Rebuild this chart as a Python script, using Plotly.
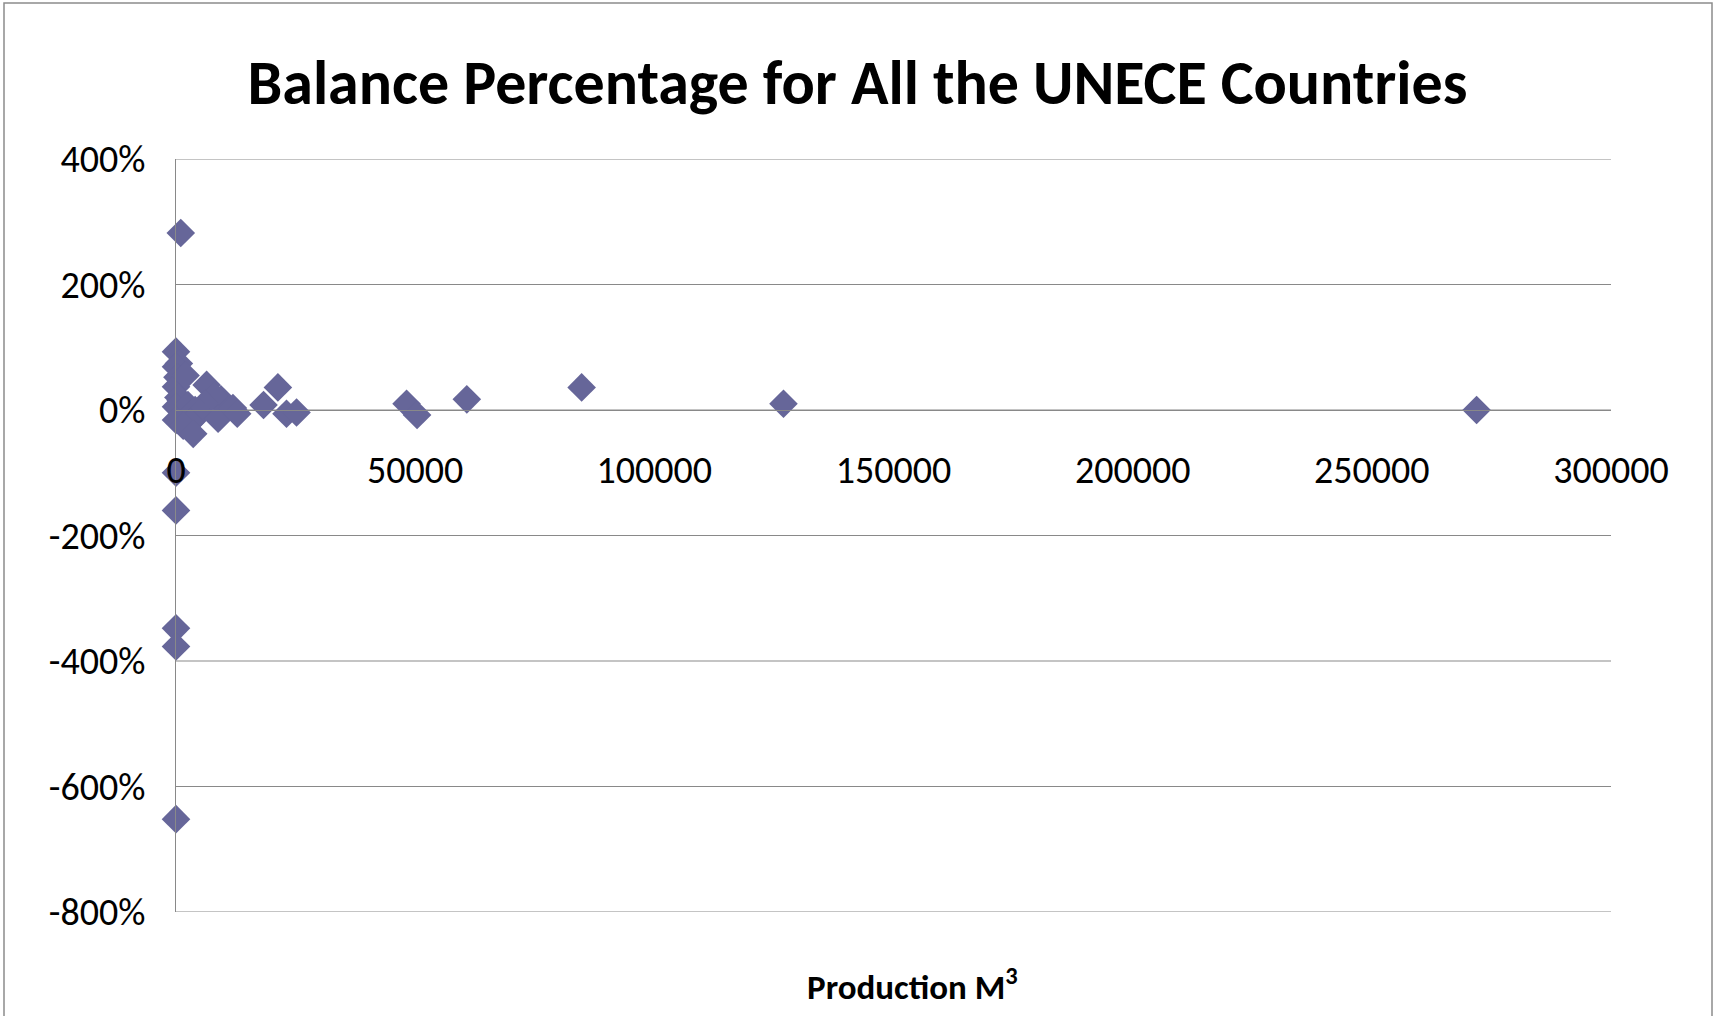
import plotly.graph_objects as go

# Production volume (m3) and balance share for each country
production = [
    1000, 0, 0, 0, 0, 0,
    0, 600, 0, 300, 0, 2000, 6400, 9400, 8000, 500, 1000, 0, 2500, 6000,
    4000, 5000, 0, 3000, 1500, 3600, 8800, 11900, 12800,
    18300, 21300, 23100, 25200,
    48200, 50400, 60800, 84800, 127000, 271900,
]
balance = [
    2.82, -1.00, -1.60, -3.48, -3.77, -6.52,
    0.93, 0.74, 0.69, 0.52, 0.37, 0.55, 0.40, 0.17, 0.22, 0.20, 0.15, 0.05, 0.08, 0.10,
    0.00, -0.05, -0.16, -0.20, -0.25, -0.38, -0.14, 0.03, -0.06,
    0.08, 0.36, -0.06, -0.04,
    0.10, -0.08, 0.17, 0.36, 0.10, 0.00,
]

x_ticks = [0, 50000, 100000, 150000, 200000, 250000, 300000]
y_ticks = [4, 2, 0, -2, -4, -6, -8]

FONT = "Calibri, Carlito, Lato, sans-serif"
GRID = "#898989"

fig = go.Figure(
    go.Scatter(
        x=production,
        y=balance,
        mode="markers",
        marker=dict(symbol="diamond", size=22, color="#666699", line=dict(width=0)),
        cliponaxis=False,
        showlegend=False,
    )
)

W, H = 1715, 1016
ML, MR, MT, MB = 176, 104, 159, 104
pw, ph = W - ML - MR, H - MT - MB

# horizontal gridlines at every y tick, including the range edges
grid_shapes = [
    dict(
        type="line",
        xref="paper",
        yref="y",
        x0=0,
        x1=1,
        y0=v,
        y1=v,
        line=dict(color=GRID, width=1),
        layer="below",
    )
    for v in y_ticks
]

fig.update_layout(
    width=W,
    height=H,
    margin=dict(l=ML, r=MR, t=MT, b=MB),
    paper_bgcolor="white",
    plot_bgcolor="white",
    font=dict(family=FONT, color="black"),
    title=dict(
        text="<b>Balance Percentage for All the UNECE Countries</b>",
        x=0.5,
        xref="container",
        xanchor="center",
        y=1 - 82 / H,
        yanchor="middle",
        font=dict(size=62, family=FONT),
    ),
    xaxis=dict(
        range=[0, 300000],
        tickvals=x_ticks,
        ticktext=[str(v) for v in x_ticks],
        anchor="free",
        position=2 / 3,
        showgrid=False,
        zeroline=False,
        showline=True,
        linecolor=GRID,
        linewidth=1,
        ticks="outside",
        ticklen=26,
        tickcolor="rgba(0,0,0,0)",
        tickfont=dict(size=38, family=FONT),
    ),
    yaxis=dict(
        range=[-8, 4],
        tickvals=y_ticks,
        ticktext=[f"{int(v * 100)}%" for v in y_ticks],
        showgrid=False,
        zeroline=False,
        showline=True,
        linecolor=GRID,
        linewidth=1,
        ticks="outside",
        ticklen=22,
        tickcolor="rgba(0,0,0,0)",
        tickfont=dict(size=38, family=FONT),
    ),
    annotations=[
        dict(
            text="<b>Production M<sup>3</sup></b>",
            xref="paper",
            yref="paper",
            x=(912 - ML) / pw,
            y=-(985 - (MT + ph)) / ph,
            xanchor="center",
            yanchor="middle",
            showarrow=False,
            font=dict(size=35, family=FONT),
        )
    ],
    shapes=grid_shapes
    + [
        dict(
            type="rect",
            xref="paper",
            yref="paper",
            x0=(4 - ML) / pw,
            x1=(1712 - ML) / pw,
            y0=-(1030 - (MT + ph)) / ph,
            y1=1 + (MT - 3) / ph,
            line=dict(color="#8c8c8c", width=1.5),
            fillcolor="rgba(0,0,0,0)",
            layer="below",
        )
    ],
)

fig.write_html("out.html")
